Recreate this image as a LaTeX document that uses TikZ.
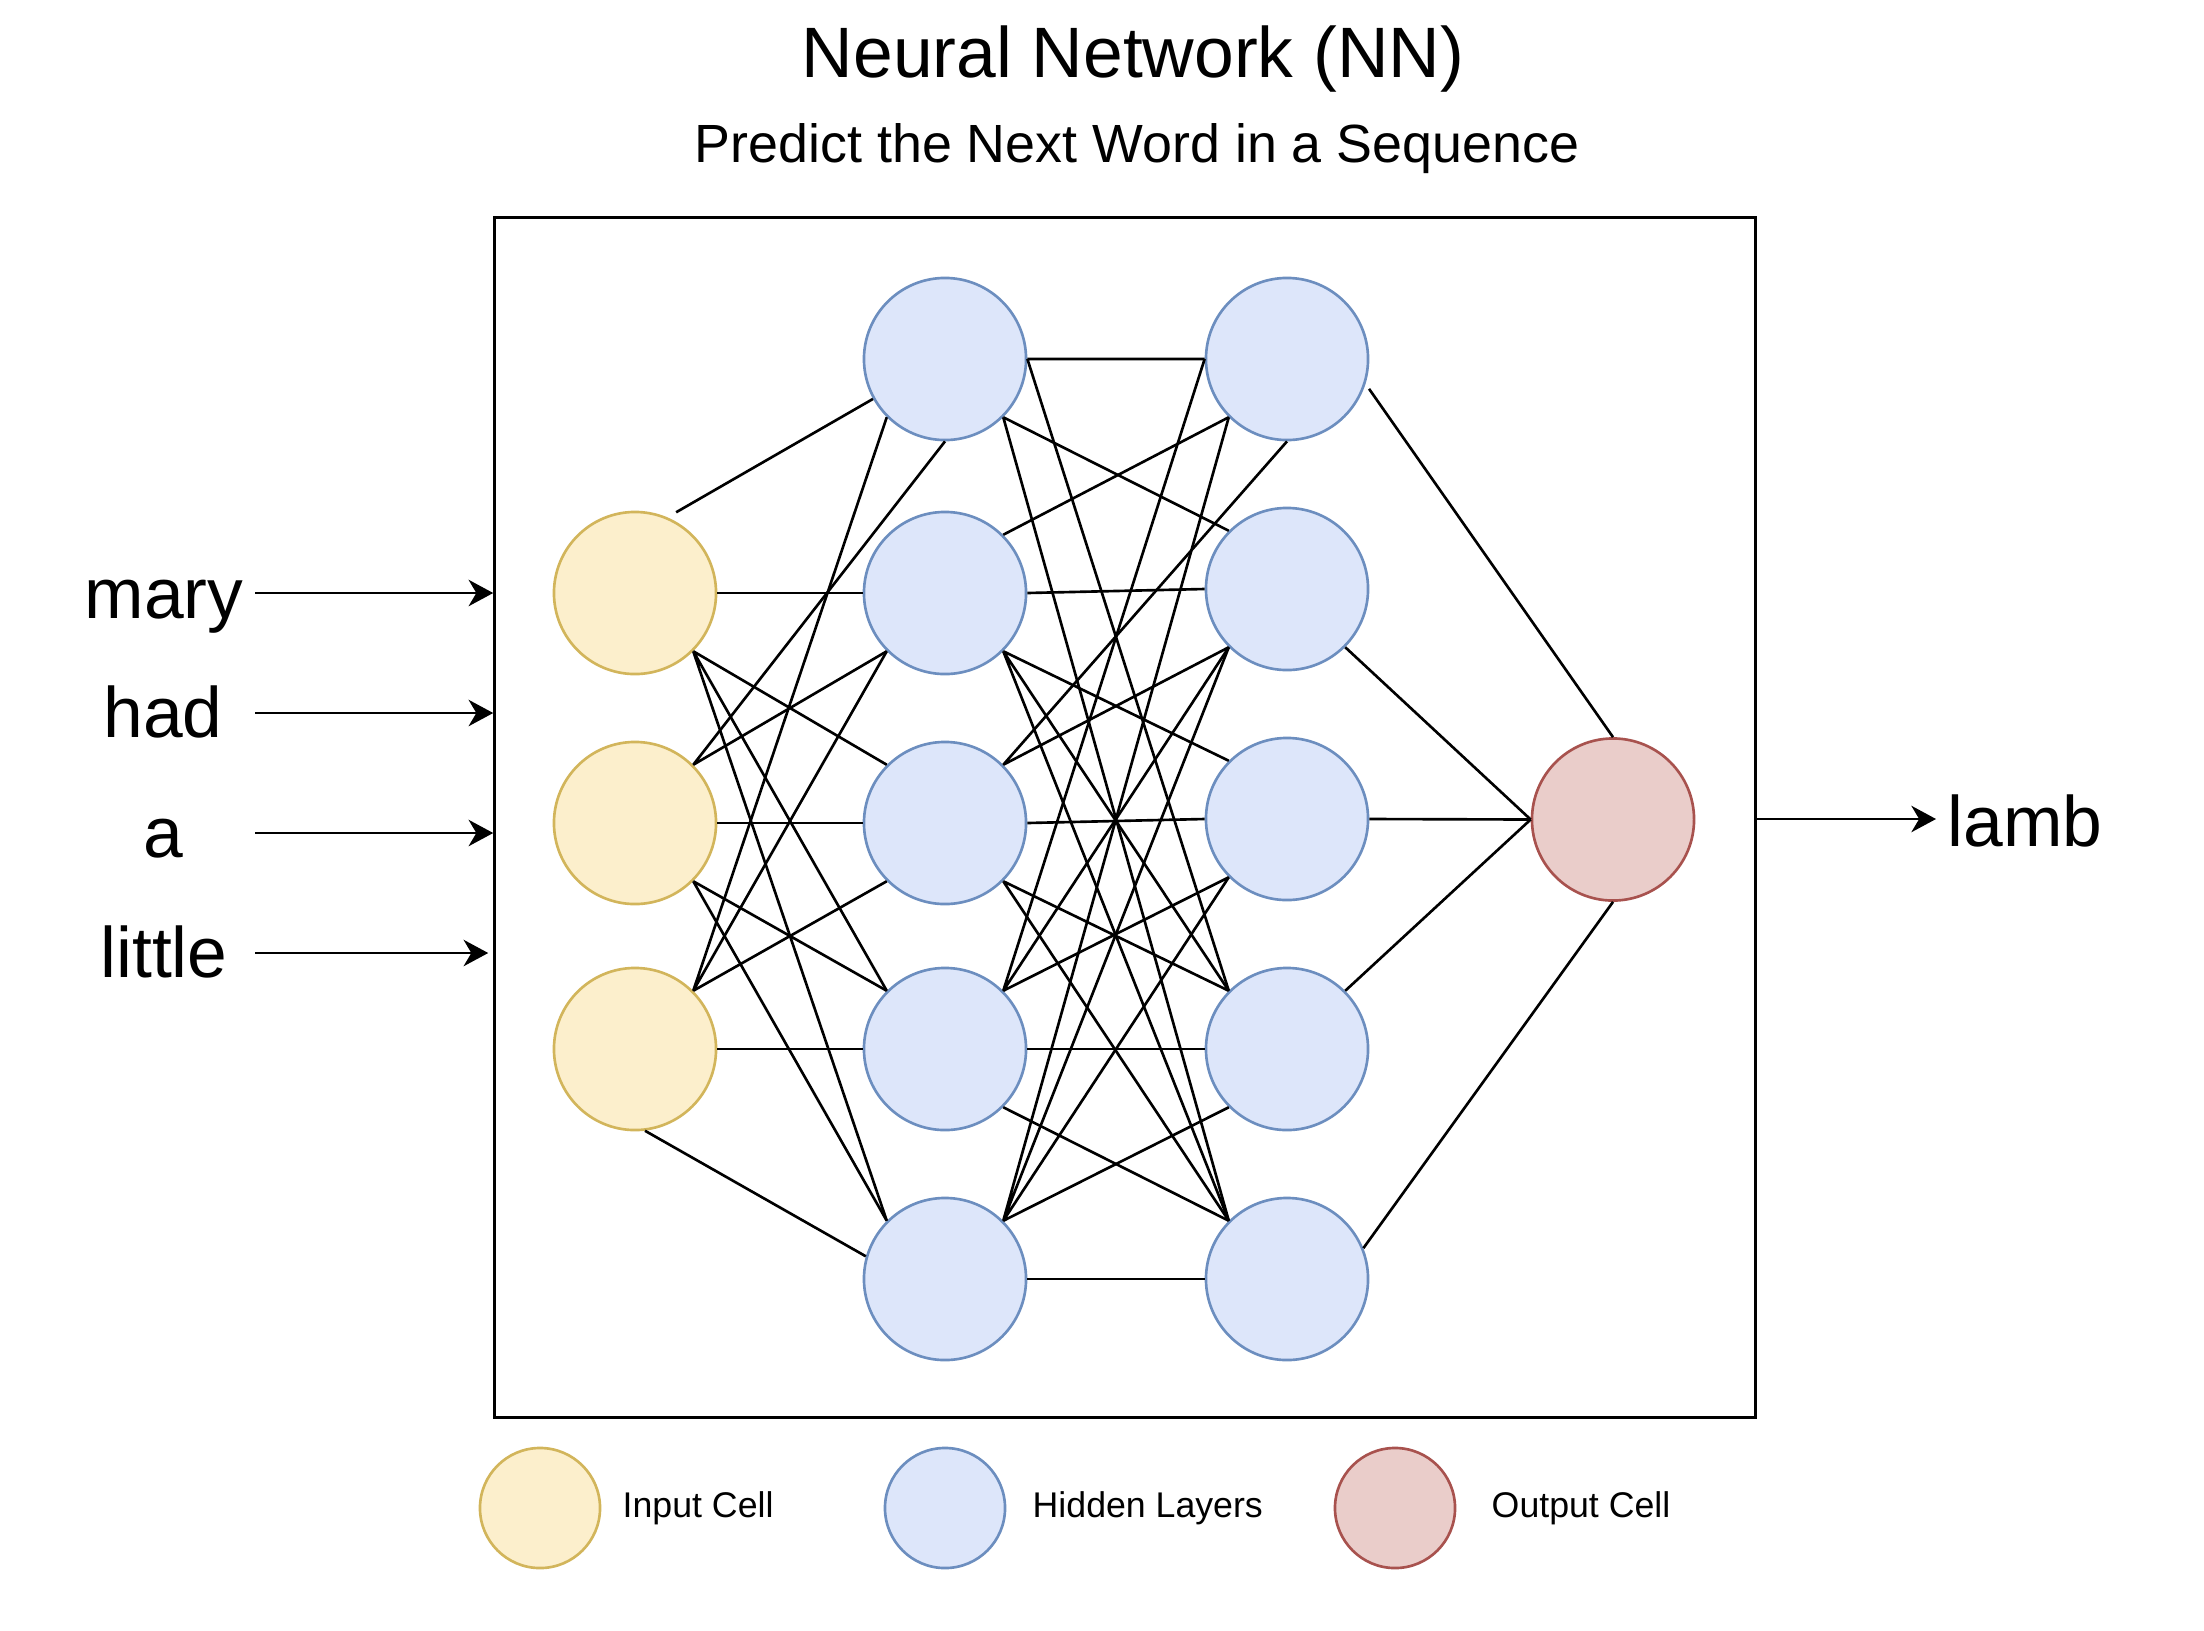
\documentclass[tikz,border=0pt]{standalone}
\usepackage{fontspec}
\setmainfont{Liberation Sans}
\usetikzlibrary{arrows.meta,calc}

\definecolor{infill}{HTML}{FCEFCC}
\definecolor{inline}{HTML}{D2B55B}
\definecolor{hidfill}{HTML}{DDE6FA}
\definecolor{hidline}{HTML}{6C8EBF}
\definecolor{outfill}{HTML}{EACDCA}
\definecolor{outline}{HTML}{A8524E}

\begin{document}
\begin{tikzpicture}[x=0.01cm, y=-0.01cm,
  >={Stealth[length=7pt,width=7.5pt,inset=2.2pt]},
  cell/.style={circle, draw, line width=0.75pt, minimum size=1.62cm, inner sep=0pt},
  incell/.style={cell, draw=inline, fill=infill},
  hidcell/.style={cell, draw=hidline, fill=hidfill},
  outcell/.style={cell, draw=outline, fill=outfill},
  keycell/.style={minimum size=1.2cm},
  link/.style={line width=0.75pt},
  word/.style={anchor=base, inner sep=0pt, font=\fontsize{20.3}{24}\selectfont},
  keytext/.style={anchor=base west, inner sep=0pt, font=\fontsize{10.15}{12}\selectfont}]
\useasboundingbox (0,0) rectangle (2204,1630);

% Title
\node[anchor=base, inner sep=0pt, font=\fontsize{20.3}{24}\selectfont] (title) at (1133,77) {Neural Network (NN)};
\node[anchor=base, inner sep=0pt, font=\fontsize{15.3}{18}\selectfont] (subtitle) at (1137,162) {Predict the Next Word in a Sequence};

% Network frame
\node[draw, line width=0.8pt, minimum width=12.6cm, minimum height=11.99cm, inner sep=0pt] (frame) at (1125,817.5) {};

% Input cells
\node[incell] (in1) at (635,593) {};
\node[incell] (in2) at (635,823) {};
\node[incell] (in3) at (635,1049) {};

% Hidden layer a
\node[hidcell] (ha1) at (945,359) {};
\node[hidcell] (ha2) at (945,593) {};
\node[hidcell] (ha3) at (945,823) {};
\node[hidcell] (ha4) at (945,1049) {};
\node[hidcell] (ha5) at (945,1279) {};

% Hidden layer b
\node[hidcell] (hb1) at (1287,359) {};
\node[hidcell] (hb2) at (1287,589) {};
\node[hidcell] (hb3) at (1287,819) {};
\node[hidcell] (hb4) at (1287,1049) {};
\node[hidcell] (hb5) at (1287,1279) {};

% Output cell
\node[outcell] (out) at (1613,819.5) {};

% Input -> hidden a
\draw[link] ($(in1)!1.1!(in1.63)$) -- (ha1.209);
\draw[link] (in1.0) -- (ha2.180);
\draw[link] (in1.315) -- (ha3.135) (in1.315) -- (ha4.135) (in1.315) -- (ha5.135);
\draw[link] (in2.45) -- (ha1.270) (in2.45) -- (ha2.225);
\draw[link] (in2.0) -- (ha3.180);
\draw[link] (in2.315) -- (ha4.135) (in2.315) -- (ha5.135);
\draw[link] (in3.45) -- (ha1.225) (in3.45) -- (ha2.225) (in3.45) -- (ha3.225);
\draw[link] (in3.0) -- (ha4.180);
\draw[link] (in3.-83) -- (ha5.164);

% Hidden a -> hidden b
\draw[link] (ha1.0) -- (hb1.180) (ha1.0) -- (hb4.135);
\draw[link] (ha1.315) -- (hb2.135) (ha1.315) -- (hb5.135);
\draw[link] (ha2.45) -- (hb1.225);
\draw[link] (ha2.0) -- (hb2.180);
\draw[link] (ha2.315) -- (hb3.135) (ha2.315) -- (hb4.135) (ha2.315) -- (hb5.135);
\draw[link] (ha3.45) -- (hb1.270) (ha3.45) -- (hb2.225);
\draw[link] (ha3.0) -- (hb3.180);
\draw[link] (ha3.315) -- (hb4.135) (ha3.315) -- (hb5.135);
\draw[link] (ha4.45) -- (hb1.180) (ha4.45) -- (hb2.225) (ha4.45) -- (hb3.225);
\draw[link] (ha4.0) -- (hb4.180);
\draw[link] (ha4.315) -- (hb5.135);
\draw[link] (ha5.45) -- (hb1.225) (ha5.45) -- (hb2.225) (ha5.45) -- (hb3.225) (ha5.45) -- (hb4.225);
\draw[link] (ha5.0) -- (hb5.180);

% Hidden b -> output
\draw[link] ($(hb1)!1.06!(hb1.-20)$) -- (out.90);
\draw[link] (hb2.315) -- (out.180);
\draw[link] (hb3.0) -- (out.180);
\draw[link] (hb4.45) -- (out.180);
\draw[link] (hb5.22) -- (out.270);

% Input words
\node[word] (wmary) at (164,618) {mary};
\node[word] (whad) at (163,737) {had};
\node[word] (wa) at (163,857) {a};
\node[word] (wlittle) at (164,977) {little};
\coordinate (amary) at (255,593);
\coordinate (ahad) at (255,713);
\coordinate (aa) at (255,833);
\coordinate (alittle) at (255,953);
\draw[link, ->] (amary) -- (amary -| frame.west);
\draw[link, ->] (ahad) -- (ahad -| frame.west);
\draw[link, ->] (aa) -- (aa -| frame.west);
\draw[link, ->] (alittle) -- ($(alittle -| frame.west)+(-5,0)$);

% Output word
\node[word, anchor=base west] (wlamb) at (1947,846) {lamb};
\coordinate (alamb) at (1936,819);
\draw[link, ->] (alamb -| frame.east) -- (alamb);

% Legend
\node[incell, keycell] (keyin) at (540,1508) {};
\node[hidcell, keycell] (keyhid) at (945,1508) {};
\node[outcell, keycell] (keyout) at (1395,1508) {};
\node[keytext] (tin) at (622,1517) {Input Cell};
\node[keytext] (thid) at (1032,1517) {Hidden Layers};
\node[keytext] (tout) at (1491,1517) {Output Cell};
\end{tikzpicture}
\end{document}
